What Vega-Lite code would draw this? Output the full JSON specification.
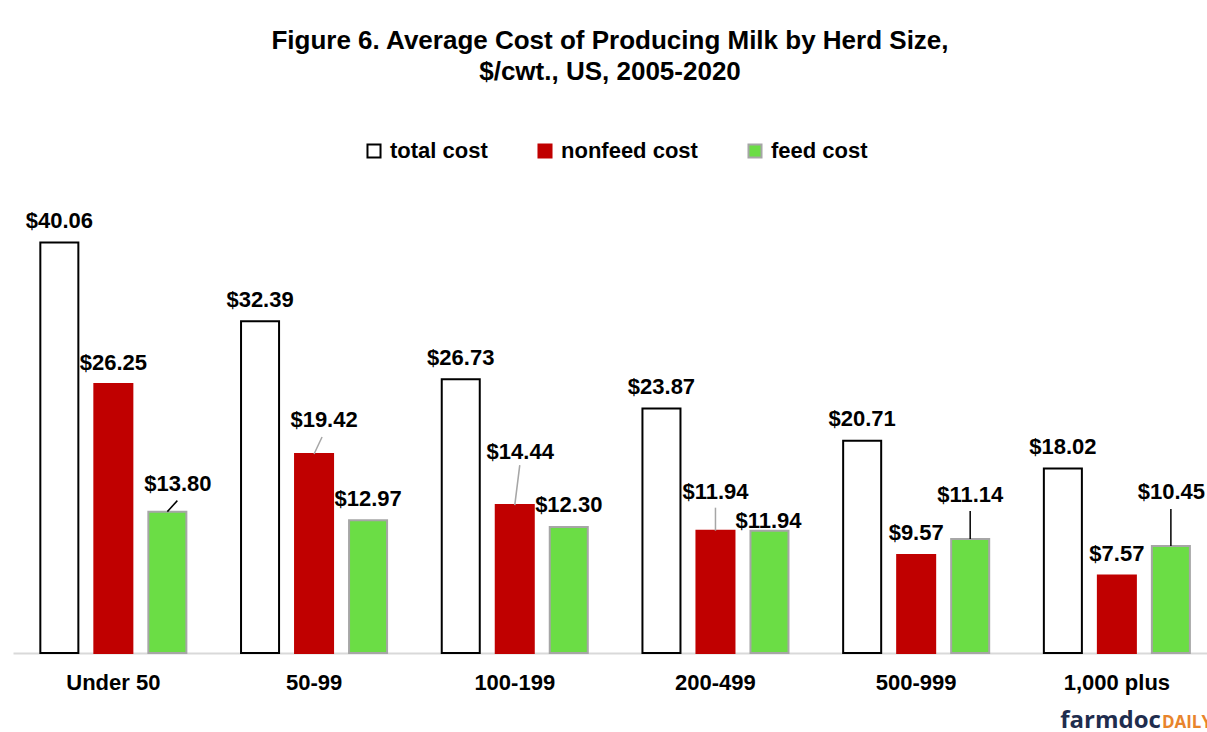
{
  "$schema": "https://vega.github.io/schema/vega-lite/v6.json",
  "width": 1194,
  "height": 461,
  "autosize": {"type": "none"},
  "padding": {"left": 13, "top": 192, "right": 0, "bottom": 79},
  "background": "white",
  "config": {"view": {"stroke": null}, "font": "Liberation Sans"},
  "title": {
    "text": ["Figure 6. Average Cost of Producing Milk by Herd Size,", "$/cwt., US, 2005-2020"],
    "anchor": "middle",
    "fontSize": 26,
    "fontWeight": "bold",
    "font": "Liberation Sans",
    "color": "black",
    "lineHeight": 31,
    "offset": 55
  },
  "data": {
    "values": [
      {"group": "Under 50", "series": "total cost", "value": 40.06},
      {"group": "Under 50", "series": "nonfeed cost", "value": 26.25},
      {"group": "Under 50", "series": "feed cost", "value": 13.80},
      {"group": "50-99", "series": "total cost", "value": 32.39},
      {"group": "50-99", "series": "nonfeed cost", "value": 19.42},
      {"group": "50-99", "series": "feed cost", "value": 12.97},
      {"group": "100-199", "series": "total cost", "value": 26.73},
      {"group": "100-199", "series": "nonfeed cost", "value": 14.44},
      {"group": "100-199", "series": "feed cost", "value": 12.30},
      {"group": "200-499", "series": "total cost", "value": 23.87},
      {"group": "200-499", "series": "nonfeed cost", "value": 11.94},
      {"group": "200-499", "series": "feed cost", "value": 11.94},
      {"group": "500-999", "series": "total cost", "value": 20.71},
      {"group": "500-999", "series": "nonfeed cost", "value": 9.57},
      {"group": "500-999", "series": "feed cost", "value": 11.14},
      {"group": "1,000 plus", "series": "total cost", "value": 18.02},
      {"group": "1,000 plus", "series": "nonfeed cost", "value": 7.57},
      {"group": "1,000 plus", "series": "feed cost", "value": 10.45}
    ]
  },
  "encoding": {
    "x": {
      "field": "group",
      "type": "nominal",
      "sort": null,
      "scale": {"paddingInner": 0.2, "paddingOuter": 0.0745, "align": 0.671},
      "axis": {
        "title": null,
        "ticks": false,
        "labelAngle": 0,
        "labelFontSize": 22,
        "labelFontWeight": "bold",
        "labelColor": "black",
        "labelPadding": 19,
        "domainColor": "#d9d9d9",
        "domainWidth": 2,
        "grid": false,
        "labelFont": "Liberation Sans"
      }
    },
    "xOffset": {
      "field": "series",
      "type": "nominal",
      "sort": ["total cost", "nonfeed cost", "feed cost"],
      "scale": {"paddingInner": 0.296, "paddingOuter": 0.1345}
    },
    "y": {
      "field": "value",
      "type": "quantitative",
      "scale": {"domain": [0, 45]},
      "axis": null
    }
  },
  "layer": [
    {
      "mark": {"type": "bar", "strokeWidth": 2},
      "encoding": {
        "fill": {
          "field": "series",
          "type": "nominal",
          "scale": {"domain": ["total cost", "nonfeed cost", "feed cost"], "range": ["#ffffff", "#c00000", "#6bdd45"]},
          "legend": {
            "orient": "none", "legendX": 350, "legendY": -52, "direction": "horizontal",
            "title": null, "symbolType": "square", "symbolSize": 170, "symbolStrokeWidth": 2,
            "labelFontSize": 22, "labelFontWeight": "bold", "labelColor": "black",
            "columnPadding": 46, "labelOffset": 5, "labelFont": "Liberation Sans"
          }
        },
        "stroke": {
          "field": "series",
          "type": "nominal",
          "scale": {"domain": ["total cost", "nonfeed cost", "feed cost"], "range": ["#000000", "#c00000", "#a6a6a6"]},
          "legend": {
            "orient": "none", "legendX": 350, "legendY": -52, "direction": "horizontal",
            "title": null, "symbolType": "square", "symbolSize": 170, "symbolStrokeWidth": 2,
            "labelFontSize": 22, "labelFontWeight": "bold", "labelColor": "black",
            "columnPadding": 46, "labelOffset": 5, "labelFont": "Liberation Sans"
          }
        }
      }
    },
    {
      "transform": [{"filter": "!((datum.group==='Under 50' && datum.series==='feed cost') || (datum.group==='50-99' && datum.series==='nonfeed cost') || (datum.group==='100-199' && datum.series==='nonfeed cost') || (datum.group==='200-499' && datum.series!=='total cost') || (datum.group==='500-999' && datum.series==='feed cost') || (datum.group==='1,000 plus' && datum.series==='feed cost'))"}],
      "mark": {"type": "text", "baseline": "middle", "dy": -21.5, "fontSize": 22, "fontWeight": "bold", "color": "black"},
      "encoding": {"text": {"field": "value", "type": "quantitative", "format": "$.2f"}}
    },
    {
      "transform": [{"filter": "datum.group==='Under 50' && datum.series==='feed cost'"}],
      "mark": {"type": "text", "baseline": "middle", "dx": 10.5, "dy": -27.5, "fontSize": 22, "fontWeight": "bold", "color": "black"},
      "encoding": {"text": {"field": "value", "type": "quantitative", "format": "$.2f"}}
    },
    {
      "transform": [{"filter": "datum.group==='50-99' && datum.series==='nonfeed cost'"}],
      "mark": {"type": "text", "baseline": "middle", "dx": 10, "dy": -34.5, "fontSize": 22, "fontWeight": "bold", "color": "black"},
      "encoding": {"text": {"field": "value", "type": "quantitative", "format": "$.2f"}}
    },
    {
      "transform": [{"filter": "datum.group==='100-199' && datum.series==='nonfeed cost'"}],
      "mark": {"type": "text", "baseline": "middle", "dx": 5.5, "dy": -53.5, "fontSize": 22, "fontWeight": "bold", "color": "black"},
      "encoding": {"text": {"field": "value", "type": "quantitative", "format": "$.2f"}}
    },
    {
      "transform": [{"filter": "datum.group==='200-499' && datum.series==='nonfeed cost'"}],
      "mark": {"type": "text", "baseline": "middle", "dx": 0, "dy": -39, "fontSize": 22, "fontWeight": "bold", "color": "black"},
      "encoding": {"text": {"field": "value", "type": "quantitative", "format": "$.2f"}}
    },
    {
      "transform": [{"filter": "datum.group==='200-499' && datum.series==='feed cost'"}],
      "mark": {"type": "text", "baseline": "middle", "dx": -1, "dy": -9.5, "fontSize": 22, "fontWeight": "bold", "color": "black"},
      "encoding": {"text": {"field": "value", "type": "quantitative", "format": "$.2f"}}
    },
    {
      "transform": [{"filter": "datum.group==='500-999' && datum.series==='feed cost'"}],
      "mark": {"type": "text", "baseline": "middle", "dx": 0, "dy": -43.5, "fontSize": 22, "fontWeight": "bold", "color": "black"},
      "encoding": {"text": {"field": "value", "type": "quantitative", "format": "$.2f"}}
    },
    {
      "transform": [{"filter": "datum.group==='1,000 plus' && datum.series==='feed cost'"}],
      "mark": {"type": "text", "baseline": "middle", "dx": 0.5, "dy": -53.5, "fontSize": 22, "fontWeight": "bold", "color": "black"},
      "encoding": {"text": {"field": "value", "type": "quantitative", "format": "$.2f"}}
    },
    {
      "transform": [{"filter": "datum.group==='Under 50' && datum.series==='feed cost'"}],
      "mark": {"type": "rule", "color": "black", "strokeWidth": 1.5, "y2Offset": -11, "x2Offset": 64},
      "encoding": {"x2": {"field": "group"}, "y2": {"field": "value"}}
    },
    {
      "transform": [{"filter": "datum.group==='50-99' && datum.series==='nonfeed cost'"}],
      "mark": {"type": "rule", "color": "#a6a6a6", "strokeWidth": 1.5, "y2Offset": -17, "x2Offset": 8},
      "encoding": {"x2": {"field": "group"}, "y2": {"field": "value"}}
    },
    {
      "transform": [{"filter": "datum.group==='100-199' && datum.series==='nonfeed cost'"}],
      "mark": {"type": "rule", "color": "#a6a6a6", "strokeWidth": 1.5, "y2Offset": -40, "x2Offset": 5},
      "encoding": {"x2": {"field": "group"}, "y2": {"field": "value"}}
    },
    {
      "transform": [{"filter": "datum.group==='200-499' && datum.series==='nonfeed cost'"}],
      "mark": {"type": "rule", "color": "#a6a6a6", "strokeWidth": 1.5, "y2Offset": -23},
      "encoding": {"y2": {"field": "value"}}
    },
    {
      "transform": [{"filter": "datum.group==='500-999' && datum.series==='feed cost'"}],
      "mark": {"type": "rule", "color": "black", "strokeWidth": 1.5, "y2Offset": -28},
      "encoding": {"y2": {"field": "value"}}
    },
    {
      "transform": [{"filter": "datum.group==='1,000 plus' && datum.series==='feed cost'"}],
      "mark": {"type": "rule", "color": "black", "strokeWidth": 1.5, "y2Offset": -37},
      "encoding": {"y2": {"field": "value"}}
    },
    {
      "transform": [{"filter": "datum.group==='1,000 plus' && datum.series==='feed cost'"}],
      "mark": {"type": "text", "align": "right", "baseline": "middle", "dx": -10, "dy": 68, "fontSize": 24, "fontWeight": "bold", "font": "Open Sans", "color": "#1f2d4e"},
      "encoding": {"y": {"datum": 0}, "text": {"value": "farmdoc"}}
    },
    {
      "transform": [{"filter": "datum.group==='1,000 plus' && datum.series==='feed cost'"}],
      "mark": {"type": "text", "align": "left", "baseline": "middle", "dx": -9, "dy": 70, "fontSize": 17, "fontWeight": "bold", "font": "Open Sans", "color": "#e8842c"},
      "encoding": {"y": {"datum": 0}, "text": {"value": "DAILY"}}
    }
  ]
}
